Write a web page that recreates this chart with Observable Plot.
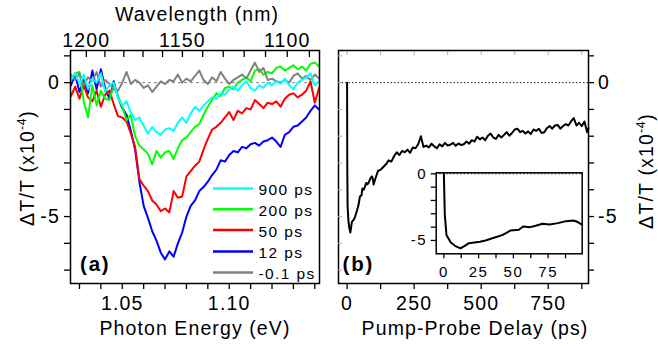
<!DOCTYPE html>
<html><head><meta charset="utf-8">
<script src="https://cdn.jsdelivr.net/npm/d3@7"></script>
<script src="https://cdn.jsdelivr.net/npm/@observablehq/plot@0.6"></script>
<style>
html,body{margin:0;padding:0;background:#fff;}
#chart{position:relative;width:658px;height:346px;overflow:hidden;}
#chart svg{position:absolute;}
</style></head><body><div id="chart"></div>
<script>
// ---------- data ----------
const energy = [1.026,1.028,1.030,1.032,1.034,1.036,1.038,1.040,1.042,1.044,1.046,1.048,1.050,1.052,1.054,1.056,1.058,1.060,1.062,1.064,1.066,1.068,1.070,1.072,1.074,1.076,1.078,1.080,1.082,1.084,1.086,1.088,1.090,1.092,1.094,1.096,1.098,1.100,1.102,1.104,1.106,1.108,1.110,1.112,1.114,1.116,1.118,1.120,1.122,1.124,1.126,1.128,1.130,1.132,1.134,1.136,1.138,1.140,1.142];
const seriesNames = ["900 ps","200 ps","50 ps","12 ps","-0.1 ps"];
const seriesColors = ["#00ffff","#00ff00","#ff0000","#0000ff","#808080"];
const dT900 = [0.1,0.35,-0.05,0.3,-0.25,0.15,0.0,0.35,-0.35,-0.1,0.0,-0.6,-0.85,-0.7,-1.1,-1.4,-1.3,-1.6,-1.9,-1.65,-1.85,-1.95,-1.75,-1.7,-1.8,-1.5,-1.3,-1.5,-1.15,-0.9,-1.05,-0.85,-0.7,-0.55,-0.6,-0.4,-0.45,-0.25,-0.15,-0.3,-0.1,0.05,-0.2,-0.3,-0.1,-0.2,0.0,-0.1,0.05,-0.05,0.15,-0.1,-0.25,0.0,0.1,0.2,0.35,-0.1,0.05];
const dT200 = [0.1,0.35,0.4,-0.7,-1.3,-0.1,-0.85,-0.3,-0.6,-0.65,-0.1,-0.5,-0.9,-1.4,-1.2,-2.0,-2.35,-2.5,-2.65,-3.05,-2.55,-2.8,-2.6,-2.55,-2.85,-2.45,-2.15,-2.05,-1.85,-1.65,-1.55,-1.2,-0.9,-0.65,-0.4,-0.5,-0.2,-0.15,-0.25,0.0,0.1,0.2,0.05,0.45,0.5,0.3,0.4,0.35,0.55,0.6,0.45,0.55,0.65,0.5,0.6,0.45,0.7,0.75,0.6];
const dT50 = [-0.5,-0.15,-0.6,-0.1,-0.55,-0.7,-0.3,-0.9,-0.45,-0.3,-0.8,-1.25,-1.3,-1.45,-1.9,-2.4,-3.6,-3.85,-4.05,-4.4,-4.55,-4.8,-4.7,-4.85,-4.05,-4.3,-4.25,-3.5,-3.3,-3.1,-2.95,-2.5,-2.1,-1.75,-1.65,-1.5,-1.3,-1.1,-1.4,-1.05,-1.15,-0.95,-1.0,-0.65,-0.8,-0.95,-0.75,-0.8,-0.7,-0.9,-0.6,-0.45,-0.4,-0.55,-0.45,-0.3,0.05,-0.75,-0.2];
const dT12 = [-0.1,0.3,-0.35,0.1,-0.4,0.45,-0.25,0.5,-0.2,-0.6,0.05,-0.55,-0.95,-1.2,-1.8,-2.5,-3.7,-4.6,-5.05,-5.55,-5.9,-6.35,-6.6,-6.3,-6.5,-6.0,-5.6,-5.0,-4.6,-4.4,-4.05,-3.9,-3.7,-3.45,-3.25,-2.9,-2.95,-2.7,-2.55,-2.6,-2.4,-2.45,-2.3,-2.25,-2.35,-2.2,-2.15,-2.05,-2.2,-2.4,-1.95,-1.85,-1.65,-1.6,-1.45,-1.3,-1.05,-0.85,-1.0];
const dTm01 = [0.3,0.1,0.35,-0.1,0.2,0.05,0.4,-0.15,0.1,-0.05,-0.25,-0.3,0.0,0.4,-0.05,0.1,0.0,-0.2,-0.1,-0.35,-0.15,0.05,-0.05,0.1,0.05,0.3,0.0,0.15,0.05,0.25,0.45,0.1,-0.05,0.2,0.05,0.4,0.15,-0.05,0.1,0.2,0.3,0.15,0.45,0.75,0.4,0.55,0.1,0.15,0.05,0.0,0.1,0.0,0.25,0.35,0.15,0.25,0.1,0.3,0.15];

const delay = [0,0.7,1.9,3,5,8,12,15,18,22,26,30,36,42,48,54,57,62,66,71,76,82,88,93,96,99,
  105,115,125,135,145,155,165,175,185,195,205,215,225,235,245,255,265,275,285,295,305,315,325,335,345,355,365,375,385,395,405,415,425,435,445,455,465,475,485,495,505,515,525,535,545,555,565,575,585,595,605,615,625,635,645,655,665,675,685,695,705,715,725,735,745,755,765,775,785,795,805,815,825,835,845,855,865,875,885,895,900];
const dTdelay = [0,-3.1,-4.6,-4.8,-5.15,-5.4,-5.6,-5.4,-5.2,-5.15,-5.1,-5.0,-4.8,-4.6,-4.25,-4.2,-3.95,-4.0,-3.9,-3.75,-3.8,-3.7,-3.55,-3.5,-3.6,-3.8,
  -3.6,-3.3,-3.25,-3.15,-3.05,-2.9,-2.95,-2.75,-2.6,-2.7,
  -2.55,-2.6,-2.5,-2.62,-2.42,-2.45,-2.3,-2.0,-2.4,-2.35,
  -2.42,-2.28,-2.38,-2.45,-2.3,-2.38,-2.25,-2.35,-2.32,-2.25,
  -2.36,-2.27,-2.33,-2.3,-2.2,-2.28,-2.15,-2.2,-2.02,-2.12,
  -2.05,-2.15,-1.98,-1.9,-2.05,-2.1,-1.95,-2.05,-1.95,-1.85,
  -1.98,-1.88,-1.75,-1.72,-1.85,-1.8,-1.9,-1.82,-1.92,-1.75,
  -1.8,-1.72,-1.88,-1.85,-1.7,-1.62,-1.72,-1.6,-1.58,-1.72,
  -1.62,-1.55,-1.6,-1.45,-1.32,-1.6,-1.5,-1.62,-1.45,-1.85,
  -1.7];

const yTicks = [1,0,-1,-2,-3,-4,-5,-6,-7];
const insetYTicks = [0,-1,-2,-3,-4,-5];
const energyTicks = [1.03,1.04,1.05,1.06,1.07,1.08,1.09,1.10,1.11,1.12,1.13,1.14];
const wavelengthTicks = [1200,1190,1180,1170,1160,1150,1140,1130,1120,1110,1100,1090];
const wavelengthLabels = [1200,1150,1100];
const delayTicks = [0,125,250,375,500,625,750,875];
const insetTicks = [0,12.5,25,37.5,50,62.5,75,87.5];

// ---------- build ----------
const HC = 1239.84;
const FONT = "'Liberation Sans', Arial, Helvetica, sans-serif";
const seriesValues = {"900 ps": dT900, "200 ps": dT200, "50 ps": dT50, "12 ps": dT12, "-0.1 ps": dTm01};
const drawOrder = ["12 ps","50 ps","200 ps","-0.1 ps","900 ps"];
const spectra = drawOrder.flatMap(s => energy.map((e, k) => ({E: e, v: seriesValues[s][k], s})));
const decay = delay.map((t, k) => ({t, v: dTdelay[k]}));
const fmtY = d => d === 0 ? "0" : d === -5 ? "-5" : "";
const baseStyle = {background: "none", overflow: "visible", fontFamily: FONT, letterSpacing: "1.2px", color: "black"};
const chart = document.getElementById("chart");
const TICKFS = 19.5;

const left = Plot.plot({
  width: 330, height: 346,
  marginLeft: 70, marginRight: 11, marginTop: 50, marginBottom: 63,
  style: baseStyle,
  x: {domain: [1.0258, 1.1422], label: null},
  y: {domain: [-7.5, 1.2], label: null},
  color: {domain: seriesNames, range: seriesColors},
  marks: [
    Plot.ruleY([0], {stroke: "#888", strokeDasharray: "3,3", strokeWidth: 1}),
    Plot.line(spectra, {x: "E", y: "v", z: "s", stroke: "s", strokeWidth: 2}),
    Plot.frame({stroke: "black", strokeWidth: 1.5}),
    Plot.axisY({ticks: yTicks, tickSize: 6, tickPadding: 4.5, tickFormat: fmtY, fontSize: TICKFS, strokeWidth: 1.3, label: null}),
    Plot.axisX({anchor: "bottom", ticks: energyTicks, tickSize: 6, tickPadding: 6.5, fontSize: TICKFS, strokeWidth: 1.3, label: null,
      tickFormat: d => Math.round(d * 100) % 5 === 0 ? d.toFixed(2) : ""}),
    Plot.axisX({anchor: "top", ticks: wavelengthTicks.map(w => HC / w), tickSize: -6, strokeWidth: 1.3, tickFormat: () => "", label: null}),
    Plot.axisX({anchor: "top", ticks: wavelengthLabels.map(w => HC / w), tickSize: 0, tickPadding: 4, fontSize: TICKFS, label: null,
      tickFormat: d => String(Math.round(HC / d))})
  ]
});
left.style.left = "0px"; left.style.top = "0px";
chart.appendChild(left);

const right = Plot.plot({
  width: 328, height: 346,
  marginLeft: 8, marginRight: 70, marginTop: 50, marginBottom: 63,
  style: baseStyle,
  x: {domain: [-32, 900], label: null},
  y: {domain: [-7.5, 1.2], label: null},
  marks: [
    Plot.ruleY([0], {stroke: "black", strokeDasharray: "1.5,2", strokeWidth: 0.9}),
    Plot.line(decay, {x: "t", y: "v", stroke: "black", strokeWidth: 2}),
    Plot.frame({stroke: "black", strokeWidth: 1.5}),
    Plot.axisY({anchor: "right", ticks: yTicks, tickSize: 5, tickPadding: 4.5, tickFormat: fmtY, fontSize: TICKFS, strokeWidth: 1.3, label: null}),
    Plot.axisY({anchor: "left", ticks: yTicks, tickSize: -4, tickFormat: () => "", stroke: "#aaa", label: null}),
    Plot.axisX({anchor: "bottom", ticks: delayTicks, tickSize: 6, tickPadding: 6.5, fontSize: TICKFS, strokeWidth: 1.3, label: null,
      tickFormat: d => d % 250 === 0 ? String(d) : ""}),
    Plot.axisX({anchor: "top", ticks: delayTicks, tickSize: -4, tickFormat: () => "", stroke: "#aaa", label: null})
  ]
});
right.style.left = "330px"; right.style.top = "0px";
chart.appendChild(right);

const inset = Plot.plot({
  width: 190, height: 120,
  marginLeft: 35.7, marginRight: 8.3, marginTop: 12.3, marginBottom: 26.7,
  style: {...baseStyle, letterSpacing: "1.6px"},
  x: {domain: [-5.5, 99.5], label: null},
  y: {domain: [-6, 0.075], label: null},
  marks: [
    Plot.frame({fill: "white"}),
    Plot.ruleY([0], {stroke: "black", strokeDasharray: "1.5,2", strokeWidth: 0.8}),
    Plot.line(decay.filter(d => d.t <= 99.5), {x: "t", y: "v", stroke: "black", strokeWidth: 2}),
    Plot.frame({stroke: "black", strokeWidth: 1.5}),
    Plot.axisY({ticks: insetYTicks, tickSize: 5, tickPadding: 4, fontSize: 15, strokeWidth: 1.3, label: null, tickFormat: fmtY}),
    Plot.axisX({ticks: insetTicks, tickSize: 5, tickPadding: 7.5, fontSize: 15, strokeWidth: 1.3, label: null,
      tickFormat: d => d % 25 === 0 ? String(d) : ""})
  ]
});
inset.style.left = "400px"; inset.style.top = "160px";
chart.appendChild(inset);

// ---------- titles, legend, panel letters ----------
const ov = d3.select(chart).append("svg")
  .attr("width", 658).attr("height", 346)
  .style("left", "0px").style("top", "0px").style("pointer-events", "none")
  .attr("font-family", FONT).attr("fill", "black");

function plainTitle(x, y, txt) {
  ov.append("text").attr("x", x).attr("y", y).attr("text-anchor", "middle")
    .style("font-size", "19.5px").style("letter-spacing", "1.1px").text(txt);
}
plainTitle(197, 21, "Wavelength (nm)");
plainTitle(195, 334.5, "Photon Energy (eV)");
plainTitle(475, 334.5, "Pump-Probe Delay (ps)");

function yTitle(x, y) {
  const t = ov.append("text").attr("transform", `translate(${x},${y}) rotate(-90)`)
    .attr("text-anchor", "middle").style("font-size", "19.5px").style("letter-spacing", "1.2px");
  t.append("tspan").text("\u0394T/T (x10");
  t.append("tspan").attr("dy", -8).style("font-size", "12.5px").style("letter-spacing", "0.5px").text("-4");
  t.append("tspan").attr("dy", 8).text(")");
}
yTitle(33.5, 168);
yTitle(652.5, 171);

const legendRows = [188.5, 209.3, 230.1, 251.4, 272.4];
seriesNames.forEach((name, i) => {
  ov.append("line").attr("x1", 213).attr("x2", 253).attr("y1", legendRows[i]).attr("y2", legendRows[i])
    .attr("stroke", seriesColors[i]).attr("stroke-width", 2.5);
  ov.append("text").attr("x", 258.5).attr("y", legendRows[i] + 6.6)
    .style("font-size", "15.5px").style("letter-spacing", "1.4px").text(name);
});

ov.append("text").attr("x", 80).attr("y", 271).style("font-size", "20.5px").style("font-weight", "bold").style("letter-spacing", "1.8px").text("(a)");
ov.append("text").attr("x", 342.5).attr("y", 271).style("font-size", "20.5px").style("font-weight", "bold").style("letter-spacing", "1.8px").text("(b)");
</script></body></html>
